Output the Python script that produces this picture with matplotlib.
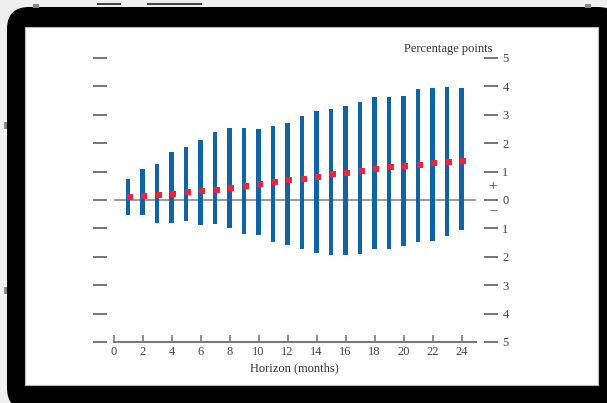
import numpy as np
import matplotlib.pyplot as plt
import matplotlib.transforms as mtransforms
from matplotlib.patches import FancyBboxPatch, Rectangle

plt.rcParams['font.family'] = ['Liberation Serif', 'DejaVu Serif']

# interval bands (percentage points) and central projection by horizon
horizon = list(range(1, 25))
upper = [0.73, 1.10, 1.26, 1.68, 1.87, 2.12, 2.40, 2.52, 2.55, 2.51, 2.62, 2.72,
         2.96, 3.15, 3.19, 3.31, 3.44, 3.62, 3.62, 3.65, 3.92, 3.96, 3.98, 3.96]
lower = [-0.52, -0.52, -0.80, -0.82, -0.75, -0.88, -0.84, -0.98, -1.19, -1.23, -1.49, -1.57,
         -1.74, -1.86, -1.95, -1.95, -1.91, -1.71, -1.74, -1.61, -1.49, -1.44, -1.26, -1.04]
point = [0.12, 0.14, 0.18, 0.21, 0.27, 0.32, 0.36, 0.42, 0.48, 0.55, 0.63, 0.70,
         0.75, 0.82, 0.91, 0.96, 1.02, 1.08, 1.15, 1.20, 1.25, 1.30, 1.34, 1.38]
xticks = list(range(0, 25, 2))
yticks = list(range(-5, 6))

W, H = 607, 403
fig = plt.figure(figsize=(W / 100, H / 100), dpi=100, facecolor='#efefef')
ident = mtransforms.IdentityTransform()


def px_box(x0, y0, x1, y1, **kw):
    # image pixel coords (origin top-left) -> display coords
    return dict(xy=(x0, H - y1), width=x1 - x0, height=y1 - y0, transform=ident, **kw)


# tablet frame (behind the axes)
b = px_box(7, 7, 620, 410)
fig.add_artist(FancyBboxPatch(b['xy'], b['width'], b['height'],
                              boxstyle='round,pad=0,rounding_size=22',
                              facecolor='black', edgecolor='none', transform=ident,
                              zorder=-3))
fig.add_artist(Rectangle(**px_box(25, 27, 598, 385, facecolor='white',
                                  edgecolor='#bbbbbb', linewidth=0.8, zorder=-2)))
# small buttons
for x0, y0, x1, y1, c in [(97, 3, 121, 5, '#444444'), (147, 3, 202, 5, '#444444'),
                          (33, 4, 39, 8, '#888888'), (585, 4, 591, 8, '#888888'),
                          (4, 122, 7, 129, '#888888'), (4, 287, 7, 294, '#888888')]:
    fig.add_artist(Rectangle(**px_box(x0, y0, x1, y1, facecolor=c, edgecolor='none',
                                      zorder=-2)))

ax = fig.add_axes([113.5 / W, (H - 342) / H, (476 - 113.5) / W, 284 / H])
ax.set_facecolor('none')
ax.set_zorder(2)

heights = [u - l for u, l in zip(upper, lower)]
ax.bar(horizon, heights, bottom=lower, width=0.28, color='#1263a6', zorder=2)
ax.axhline(0, color='#8a8a8a', linewidth=1.2, zorder=1)
# the dots sit a touch right of the bar centres in the original
shift = ax.transData + mtransforms.ScaledTranslation(1.8 / 100, 0, fig.dpi_scale_trans)
ax.plot(horizon, point, linestyle='none', marker='s', markersize=3.7,
        color='#f0233b', markeredgewidth=0, zorder=3, transform=shift)

ax.set_xlim(0, 25)
ax.set_ylim(-5, 5)

for s in ['top', 'left', 'right']:
    ax.spines[s].set_visible(False)
ax.spines['bottom'].set_color('#7a7a7a')
ax.spines['bottom'].set_linewidth(1.5)

ax.set_xticks(xticks)
ax.set_xticklabels([str(t) for t in xticks])
ax.tick_params(axis='x', direction='in', length=5, width=1.2, color='#7a7a7a', pad=3,
               labelsize=9, labelcolor='#444444')

ax.set_yticks(yticks)
ax.set_yticklabels([str(abs(t)) for t in yticks])
ax.spines['left'].set_position(('outward', 5))
ax.spines['right'].set_position(('outward', 6))
ax.tick_params(axis='y', which='both', left=True, right=True, labelleft=False,
               labelright=True, direction='out', length=10, width=1.3,
               color='#6a6a6a', pad=3, labelsize=9, labelcolor='#444444')

ax.set_xlabel('Horizon (months)', fontsize=9, color='#333333', labelpad=3)

fig.text(493 / W, 1 - 52 / H, 'Percentage points', ha='right', va='baseline',
         fontsize=9, color='#333333')
fig.text(493 / W, 1 - 187 / H, '+', ha='center', va='center',
         fontsize=11, color='#444444')
fig.text(493 / W, 1 - 211 / H, '\u2212', ha='center', va='center',
         fontsize=10, color='#444444')

plt.savefig('out.png', dpi=100, facecolor=fig.get_facecolor())
